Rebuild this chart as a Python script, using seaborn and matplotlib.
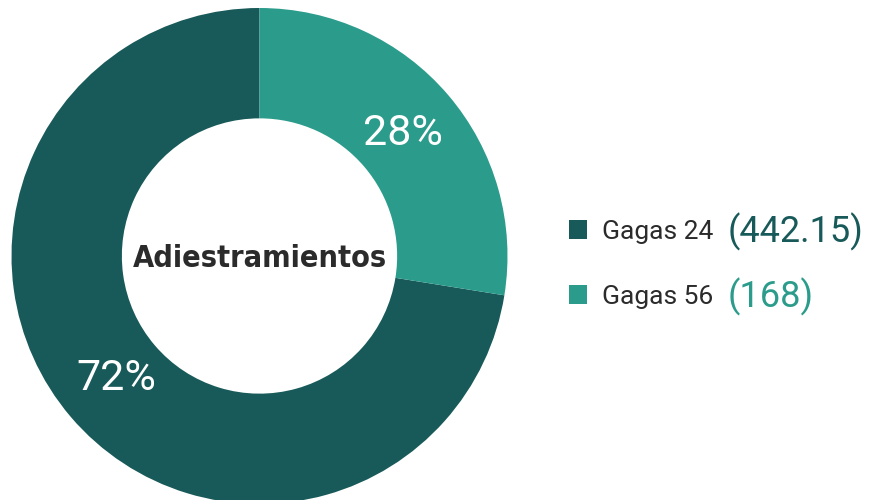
import seaborn as sns
import matplotlib.pyplot as plt
from matplotlib.patches import Patch

labels = ["Gagas 24", "Gagas 56"]
values = [442.15, 168]
value_text = ["(442.15)", "(168)"]
center_title = "Adiestramientos"

sns.set_theme(style="white")
plt.rcParams['font.family'] = ['Roboto', 'DejaVu Sans']
colors = sns.color_palette(["#185a59", "#2b9c8b"])

fig = plt.figure(figsize=(8.7, 5), dpi=100)
ax = fig.add_axes([0, 0, 1, 1])

# donut, radius 1 = 248 px, centre at (259.5, 256) px from top-left
wedges, texts, autotexts = ax.pie(
    values, colors=colors, startangle=90, counterclock=True,
    radius=1, wedgeprops=dict(width=0.445, linewidth=0),
    autopct=lambda p: f"{p:.0f}%", pctdistance=0.76,
    textprops=dict(color="white", fontsize=31),
)
ax.set_xlim(-259.5 / 248, (870 - 259.5) / 248)
ax.set_ylim(-244 / 248, (500 - 244) / 248)
ax.set_aspect("equal")
ax.axis("off")

ax.text(0, -0.01, center_title, ha="center", va="center", fontsize=22,
        fontweight="bold", fontstretch="condensed", color="#2b2b2b",
        family=["DejaVu Sans"])

# legend with values next to the labels
handles = [Patch(facecolor=c, edgecolor="none") for c in colors]
leg = ax.legend(handles, labels, loc="upper left",
                bbox_to_anchor=(545 / 870, 1 - 196 / 500),
                frameon=False, fontsize=19, handlelength=0.7, handleheight=0.7,
                handletextpad=0.55, labelspacing=1.55, labelcolor="#2b2b2b")

fig.canvas.draw()
renderer = fig.canvas.get_renderer()
for t, v, c in zip(leg.get_texts(), value_text, colors):
    bb = t.get_window_extent(renderer)
    fig.text((bb.x1 + 15) / 870, (bb.y0 + bb.y1) / 2 / 500 - 0.001, v,
             color=c, fontsize=26, va="center", ha="left")

fig.savefig("out.png", dpi=100)
